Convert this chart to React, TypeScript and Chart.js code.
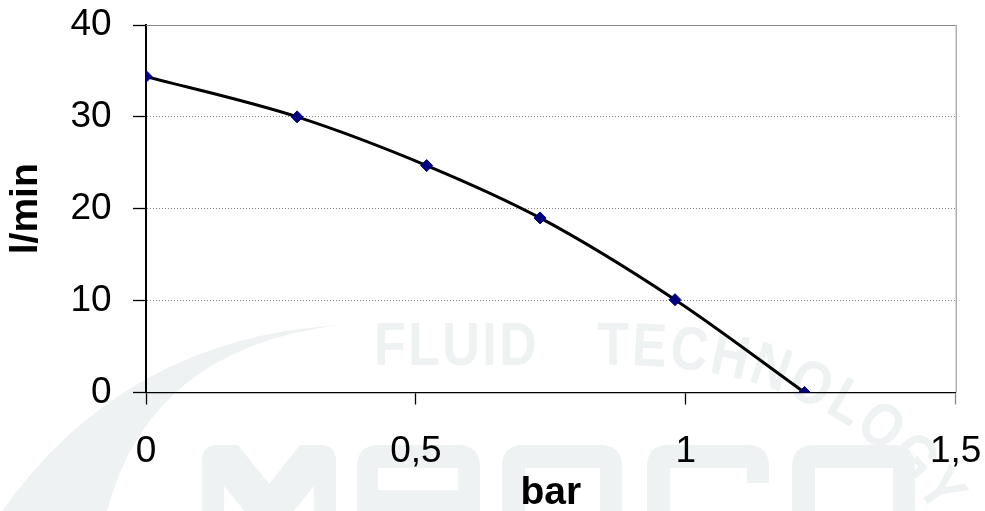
import React, { useEffect, useRef } from 'react';
import { Chart, registerables } from 'chart.js';

Chart.register(...registerables);

// ---- data ----
const pressureBar = [0, 0.28, 0.52, 0.73, 0.98, 1.22];
const flowLmin = [34.4, 30, 24.7, 19, 10.1, 0];
const xTickValues = [0, 0.5, 1, 1.5];
const yTickValues = [0, 10, 20, 30, 40];
const xTitle = 'bar';
const yTitle = 'l/min';
const watermarkLine = 'FLUID TECHNOLOGY';

const FONT = "'Liberation Sans', Arial, sans-serif";
const WM = '#eef2f2';

function roundTop(ctx: CanvasRenderingContext2D, x0: number, x1: number, top: number, bottom: number, r: number) {
  ctx.moveTo(x0, bottom);
  ctx.lineTo(x0, top + r);
  ctx.quadraticCurveTo(x0, top, x0 + r, top);
  ctx.lineTo(x1 - r, top);
  ctx.quadraticCurveTo(x1, top, x1, top + r);
  ctx.lineTo(x1, bottom);
  ctx.closePath();
}

const watermarkPlugin = {
  id: 'watermark',
  beforeDraw(chart: any) {
    const ctx = chart.ctx as CanvasRenderingContext2D;
    ctx.save();
    ctx.fillStyle = WM;
    // swoosh
    ctx.beginPath();
    ctx.moveTo(340, 325);
    ctx.quadraticCurveTo(125, 338, 2, 511);
    ctx.lineTo(107, 511);
    ctx.quadraticCurveTo(150, 348, 340, 325);
    ctx.closePath();
    ctx.fill();

    // FLUID TECHNOLOGY
    ctx.font = `bold 61px ${FONT}`;
    ctx.textBaseline = 'alphabetic';
    ctx.textAlign = 'left';
    const sx = 0.85;
    const angles = [0, 0.05, 0.13, 0.21, 0.33, 0.43, 0.53, 0.68, 0.83, 0.95];
    let x = 374;
    let y = 365;
    for (let i = 0; i < watermarkLine.length; i++) {
      const ch = watermarkLine[i];
      const k = i - 6;
      const ang = k >= 0 ? angles[k] : 0;
      if (ch !== ' ') {
        ctx.save();
        ctx.translate(x, y);
        ctx.rotate(ang);
        ctx.scale(sx, 1);
        ctx.fillText(ch, 0, 0);
        ctx.restore();
      }
      const w = ch === ' ' ? 58 : ctx.measureText(ch).width * sx + 2.5;
      x += Math.cos(ang) * w;
      y += Math.sin(ang) * w;
    }

    // brand block letters
    const top = 445;
    const bot = 540;
    const r = 22;
    ctx.beginPath();
    // M
    ctx.moveTo(202, bot);
    ctx.lineTo(202, top + 16);
    ctx.quadraticCurveTo(202, top, 218, top);
    ctx.lineTo(238, top);
    ctx.lineTo(269, 484);
    ctx.lineTo(300, top);
    ctx.lineTo(320, top);
    ctx.quadraticCurveTo(336, top, 336, top + 16);
    ctx.lineTo(336, bot);
    ctx.lineTo(314, bot);
    ctx.lineTo(314, 486);
    ctx.lineTo(280, 528);
    ctx.lineTo(258, 528);
    ctx.lineTo(224, 486);
    ctx.lineTo(224, bot);
    ctx.closePath();
    // a, r, c, o blocks
    roundTop(ctx, 357, 480, top, bot, r);
    roundTop(ctx, 502, 622, top, bot, r);
    roundTop(ctx, 647, 769, top, bot, r);
    roundTop(ctx, 792, 915, top, bot, r);
    ctx.fill();
    // holes
    ctx.fillStyle = '#ffffff';
    ctx.fillRect(378, 468, 80, 22);
    ctx.fillRect(525, 468, 75, 80);
    ctx.fillRect(670, 468, 77, 80);
    ctx.fillRect(670, 483, 100, 80);
    ctx.fillRect(815, 468, 78, 80);
    ctx.restore();
  },
};

const framePlugin = {
  id: 'frame',
  beforeDatasetsDraw(chart: any) {
    const { ctx, chartArea } = chart;
    ctx.save();
    ctx.strokeStyle = '#888888';
    ctx.lineWidth = 1;
    ctx.beginPath();
    ctx.moveTo(chartArea.left, chartArea.top + 0.5);
    ctx.lineTo(chartArea.right, chartArea.top + 0.5);
    ctx.moveTo(chartArea.right + 0.5, chartArea.top);
    ctx.lineTo(chartArea.right + 0.5, chartArea.bottom);
    ctx.stroke();
    ctx.restore();
  },
};

export default function App() {
  const ref = useRef<HTMLCanvasElement | null>(null);

  useEffect(() => {
    if (!ref.current) return;
    const points = pressureBar.map((x, i) => ({ x, y: flowLmin[i] }));
    const chart = new Chart(ref.current, {
      type: 'scatter',
      data: {
        datasets: [
          {
            label: 'points',
            data: points,
            showLine: false,
            pointStyle: 'rectRot',
            pointRadius: 6,
            pointBackgroundColor: '#000080',
            pointBorderColor: '#000080',
            pointBorderWidth: 1,
          },
          {
            label: 'curve',
            data: points,
            showLine: true,
            pointRadius: 0,
            borderColor: '#000000',
            borderWidth: 3,
            cubicInterpolationMode: 'monotone',
          },
        ],
      },
      options: {
        animation: false,
        responsive: true,
        maintainAspectRatio: false,
        layout: { padding: { top: 25, right: 29.3, left: 0, bottom: 0 } },
        plugins: {
          legend: { display: false },
          tooltip: { enabled: false },
        },
        scales: {
          x: {
            type: 'linear',
            min: 0,
            max: 1.5,
            afterBuildTicks: (s: any) => {
              s.ticks = xTickValues.map((v) => ({ value: v }));
            },
            afterFit: (s: any) => {
              s.height = 118.5;
              s.paddingLeft = 0;
              s.paddingRight = 0;
            },
            ticks: {
              color: '#000',
              font: { family: FONT, size: 37 },
              padding: 25.5,
              maxRotation: 0,
              callback: (v: any) => String(v).replace('.', ','),
            },
            grid: {
              drawOnChartArea: false,
              drawTicks: true,
              tickLength: 12,
              tickWidth: 1.3,
              tickColor: (c: any) => (c.tick && c.tick.value === 1.5 ? '#888888' : '#000000'),
            },
            border: { color: '#000', width: 1.3 },
            title: {
              display: true,
              text: xTitle,
              color: '#000',
              font: { family: FONT, size: 39, weight: 'bold', lineHeight: 1 },
              padding: { top: 0, bottom: -2 },
            },
          },
          y: {
            type: 'linear',
            min: 0,
            max: 40,
            afterBuildTicks: (s: any) => {
              s.ticks = yTickValues.map((v) => ({ value: v }));
            },
            afterFit: (s: any) => {
              s.width = 146;
              s.paddingTop = 0;
              s.paddingBottom = 0;
            },
            ticks: {
              color: '#000',
              font: { family: FONT, size: 37 },
              padding: 21.3,
            },
            grid: {
              drawOnChartArea: true,
              drawTicks: true,
              tickLength: 13,
              tickWidth: 1.3,
              tickColor: '#000',
              tickBorderDash: [],
              lineWidth: 1,
              color: (c: any) =>
                c.tick && (c.tick.value === 0 || c.tick.value === 40) ? 'rgba(0,0,0,0)' : '#808080',
            },
            border: { color: '#000', width: 2, dash: [1, 2] },
            title: {
              display: true,
              text: yTitle,
              color: '#000',
              font: { family: FONT, size: 39, weight: 'bold', lineHeight: 1 },
              padding: { top: 7, bottom: 0 },
            },
          },
        },
      },
      plugins: [watermarkPlugin, framePlugin],
    } as any);
    return () => chart.destroy();
  }, []);

  return (
    <div style={{ position: 'fixed', left: 0, top: 0, width: 985, height: 511 }}>
      <canvas ref={ref} />
    </div>
  );
}
